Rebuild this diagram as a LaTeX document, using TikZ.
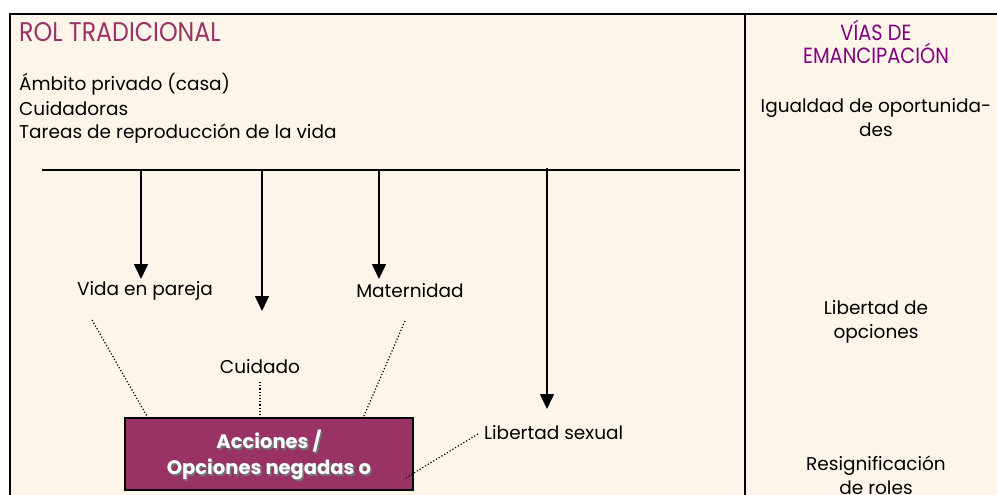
\documentclass[tikz,border=0pt]{standalone}
\usepackage{fontspec}
\setmainfont{Poppins}
\newfontfamily\titlefont[FakeStretch=0.88]{Poppins}
\usetikzlibrary{arrows.meta}
\definecolor{cream}{HTML}{FEF5EA}
\definecolor{rose}{HTML}{993366}
\definecolor{violet}{HTML}{800080}
\tikzset{
  body/.style={font=\fontsize{18.5}{24}\selectfont, inner sep=0pt, text=black},
  rcol/.style={body, align=center},
  arr/.style={line width=1.6pt, -{Triangle[length=15pt,width=14pt]}},
  dots/.style={line width=1.2pt, dotted},
  frame/.style={line width=2.2pt},
}
\begin{document}
\begin{tikzpicture}[x=1pt,y=-1pt]
\useasboundingbox (0,0) rectangle (997,495);
\fill[white] (0,0) rectangle (997,495);
\fill[cream] (10,14) rectangle (997,495);
\draw[frame] (10,495) -- (10,14) -- (997,14);
\draw[frame] (745,14) -- (745,495);
% left header texts
\node[anchor=west, inner sep=0pt, text=rose, font=\titlefont\fontsize{27}{29}\selectfont] (title) at (19,32) {ROL TRADICIONAL};
\node[body, anchor=west, align=left] (ambito) at (19,84) {Ámbito privado (casa)};
\node[body, anchor=west, align=left] (cuid) at (19,109) {Cuidadoras};
\node[body, anchor=west, align=left] (tareas) at (19,134) {Tareas de reproducción de la vida};
% horizontal bar
\coordinate (hl) at (42,170);
\coordinate (hr) at (740,170);
\draw[line width=1.8pt] (hl) -- (hr);
\coordinate (a1) at (141,170);
\coordinate (a2) at (262,170);
\coordinate (a3) at (379,170);
\coordinate (a4) at (547,168);
\coordinate (e1) at (141,279);
\coordinate (e2) at (262,311);
\coordinate (e3) at (379,279);
\coordinate (e4) at (547,409);
\draw[arr] (a1) -- (e1);
\draw[arr] (a2) -- (e2);
\draw[arr] (a3) -- (e3);
\draw[arr] (a4) -- (e4);
% labels
\node[body] (vida) at (145,291) {Vida en pareja};
\node[body] (mat) at (410,291) {Maternidad};
\node[body] (cuidado) at (260,367) {Cuidado};
\node[body, anchor=west] (libsex) at (484,433) {Libertad sexual};
% box
\node[draw=black, line width=1.2pt, fill=rose, minimum width=288pt, minimum height=72pt, inner sep=0pt] (box) at (269,454) {};
\node[text=black!55, align=center, font=\fontsize{19.5}{26}\selectfont\bfseries] at (270.5,456.5) {Acciones /\\Opciones negadas o};
\node[text=white, align=center, font=\fontsize{19.5}{26}\selectfont\bfseries] (boxtext) at (269,455) {Acciones /\\Opciones negadas o};
% dotted connectors
\coordinate (d1) at (92,320);
\coordinate (d3) at (405,321);
\draw[dots] (d1) -- (148,418);
\draw[dots] (cuidado.south |- 0,382) -- (260,417);
\draw[dots] (d3) -- (363,418);
\draw[dots] (libsex.west) ++(-6,1) -- (404,479);
% right column
\node[align=center, inner sep=0pt, text=violet, font=\titlefont\fontsize{22}{23}\selectfont] (vias) at (876,42) {VÍAS DE\\EMANCIPACIÓN};
\node[rcol] (igual) at (876,118) {Igualdad de oportunida-\\des};
\node[rcol] (libop) at (876,322) {Libertad de\\opciones};
\node[rcol] (resig) at (876,475) {Resignificación\\de roles};
\end{tikzpicture}
\end{document}
